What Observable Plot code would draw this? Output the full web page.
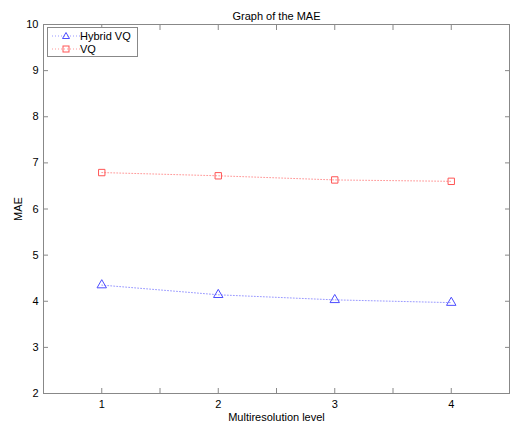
<!DOCTYPE html>
<html>
<head>
<meta charset="utf-8">
<script src="https://cdn.jsdelivr.net/npm/d3@7"></script>
<script src="https://cdn.jsdelivr.net/npm/@observablehq/plot@0.6"></script>
<style>
  body { margin: 0; background: #fff; font-family: "Liberation Sans", Arial, sans-serif; }
  #wrap { position: relative; width: 510px; height: 425px; }
  #legend { position: absolute; left: 47px; top: 27px; width: 89px; height: 28px; border: 1px solid #888; background: #fff; font-size: 11px; color: #000; }
  .row { position: absolute; left: 0; height: 14px; line-height: 14px; }
  .row svg { position: absolute; left: 4px; top: 0; }
  .row span { position: absolute; left: 32px; white-space: nowrap; }
</style>
</head>
<body>
<div id="wrap">
  <div id="chart"></div>
  <div id="legend">
    <div class="row" style="top:1px"><svg width="28" height="14"><line x1="0" y1="7" x2="28" y2="7" stroke="blue" stroke-opacity="0.4" stroke-dasharray="1,2"/><path d="M14,3.5 L17.5,9.5 L10.5,9.5 Z" fill="none" stroke="#4d4dff"/></svg><span>Hybrid VQ</span></div>
    <div class="row" style="top:14px"><svg width="28" height="14"><line x1="0" y1="7" x2="28" y2="7" stroke="red" stroke-opacity="0.4" stroke-dasharray="1,2"/><rect x="11" y="4" width="6" height="6" fill="none" stroke="#ff5555"/></svg><span>VQ</span></div>
  </div>
</div>
<script>
const levels = [1, 2, 3, 4];
const hybridVQ = [4.35, 4.14, 4.03, 3.97];
const vq = [6.79, 6.72, 6.63, 6.60];
const xTicks = [0.5, 1, 1.5, 2, 2.5, 3, 3.5, 4, 4.5];
const yTicks = [2, 3, 4, 5, 6, 7, 8, 9, 10];
const seriesNames = ["Hybrid VQ", "VQ"];

const hybridData = levels.map((l, i) => ({level: l, mae: hybridVQ[i], series: seriesNames[0]}));
const vqData = levels.map((l, i) => ({level: l, mae: vq[i], series: seriesNames[1]}));

const axisColor = "#888";

const plot = Plot.plot({
  width: 510,
  height: 425,
  marginLeft: 43,
  marginRight: 1,
  marginTop: 24,
  marginBottom: 32,
  style: {fontFamily: "'Liberation Sans', Arial, sans-serif", fontSize: "11px", color: "#000", background: "#fff"},
  x: {domain: [0.5, 4.5]},
  y: {domain: [2, 10]},
  marks: [
    Plot.frame({stroke: axisColor}),
    Plot.axisX({anchor: "bottom", ticks: xTicks, tickSize: -5, stroke: axisColor, tickFormat: () => "", label: null}),
    Plot.axisX({anchor: "bottom", ticks: levels, tickSize: 0, tickPadding: 7, tickFormat: d => String(d),
      label: "Multiresolution level", labelAnchor: "center", labelArrow: "none", labelOffset: 27, fill: "#000"}),
    Plot.axisX({anchor: "top", ticks: xTicks, tickSize: -5, stroke: axisColor, tickFormat: () => "", label: null}),
    Plot.axisY({anchor: "left", ticks: yTicks, tickSize: -5, stroke: axisColor, tickFormat: () => "", label: null}),
    Plot.axisY({anchor: "left", ticks: yTicks, tickSize: 0, tickPadding: 5, tickFormat: d => String(d),
      label: "MAE", labelAnchor: "center", labelArrow: "none", labelOffset: 29, fill: "#000"}),
    Plot.axisY({anchor: "right", ticks: yTicks, tickSize: -5, stroke: axisColor, tickFormat: () => "", label: null}),
    Plot.line(vqData, {x: "level", y: "mae", stroke: "red", strokeOpacity: 0.4, strokeDasharray: "1,2", strokeWidth: 1}),
    Plot.line(hybridData, {x: "level", y: "mae", stroke: "blue", strokeOpacity: 0.4, strokeDasharray: "1,2", strokeWidth: 1}),
    Plot.dot(vqData, {x: "level", y: "mae", symbol: "square", r: 3.6, stroke: "#ff5555", strokeWidth: 1, fill: "none"}),
    Plot.dot(hybridData, {x: "level", y: "mae", symbol: "triangle", r: 3.5, stroke: "#4d4dff", strokeWidth: 1, fill: "none"}),
    Plot.text(["Graph of the MAE"], {frameAnchor: "top", dy: -12, fontSize: 11, fill: "#000"})
  ]
});
document.getElementById("chart").appendChild(plot);
</script>
</body>
</html>
